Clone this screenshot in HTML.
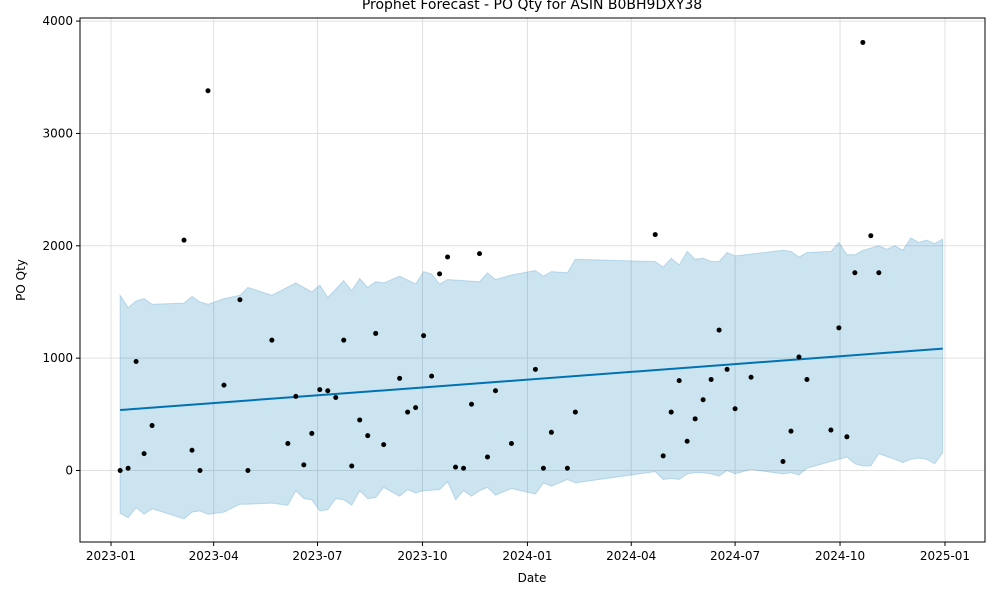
<!DOCTYPE html>
<html><head><meta charset="utf-8"><style>
html,body{margin:0;padding:0;background:#fff;}
svg text{font-family:"DejaVu Sans","Liberation Sans",sans-serif;fill:#000;}
</style></head><body>
<svg id="chart" width="1000" height="600" xmlns="http://www.w3.org/2000/svg">
<text x="532" y="9" font-size="14" text-anchor="middle">Prophet Forecast - PO Qty for ASIN B0BH9DXY38</text>
<g id="grid"></g>
<g id="band"></g>
<g id="trend"></g>
<g id="pts"></g>
<rect x="80" y="18" width="905" height="524" fill="none" stroke="#000" stroke-width="1"/>
<g id="axes"></g>
<text x="532" y="582" font-size="12" text-anchor="middle">Date</text>
<text x="25" y="280" font-size="12" text-anchor="middle" transform="rotate(-90 25 280)">PO Qty</text>
</svg>
<script>
// weeks since 2023-01-09
const pointWeeks=[0,1,2,3,4,8,9,10,11,13,15,16,19,21,22,23,24,25,26,27,28,29,30,31,32,33,35,36,37,38,39,40,41,42,43,44,45,46,47,49,52,53,54,56,57,67,68,69,70,71,72,73,74,75,76,77,79,83,84,85,86,89,90,91,92,93,94,95];
const pointValues=[0,20,970,150,400,2050,180,0,3380,760,1520,0,1160,240,660,50,330,720,710,650,1160,40,450,310,1220,230,820,520,560,1200,840,1750,1900,30,20,590,1930,120,710,240,900,20,340,20,520,2100,130,520,800,260,460,630,810,1250,900,550,830,80,350,1010,810,360,1270,300,1760,3810,2090,1760];
const bandUpperWeeks=[0,1,2,3,4,8,9,10,11,13,15,16,19,22,24,25,26,28,29,30,31,32,33,35,37,38,39,40,41,43,45,46,47,49,52,53,54,56,57,67,68,69,70,71,72,73,74,75,76,77,83,84,85,86,89,90,91,92,93,95,96,97,98,99,100,101,102,103];
const bandUpper=[1560,1450,1510,1530,1480,1490,1550,1500,1480,1530,1560,1630,1560,1670,1590,1650,1540,1690,1600,1710,1630,1680,1670,1730,1660,1770,1750,1660,1700,1690,1680,1760,1700,1740,1780,1730,1770,1760,1880,1860,1810,1890,1830,1950,1880,1890,1860,1860,1940,1910,1960,1950,1900,1940,1950,2030,1920,1920,1960,2000,1970,2000,1960,2070,2030,2050,2020,2060];
const bandLowerWeeks=[0,1,2,3,4,8,9,10,11,13,15,16,19,21,22,23,24,25,26,27,28,29,30,31,32,33,35,36,37,38,40,41,42,43,44,45,46,47,49,52,53,54,56,57,67,68,69,70,71,72,73,74,75,76,77,79,83,84,85,86,89,91,92,93,94,95,97,98,99,100,101,102,103];
const bandLower=[-380,-420,-330,-390,-340,-430,-370,-360,-390,-370,-300,-300,-290,-310,-180,-250,-260,-360,-350,-250,-260,-310,-180,-250,-240,-150,-230,-170,-200,-180,-170,-100,-260,-180,-230,-180,-150,-220,-160,-210,-110,-140,-80,-110,-10,-80,-70,-80,-30,-20,-20,-30,-50,0,-30,10,-30,-20,-40,20,80,120,60,40,40,150,100,70,100,110,100,60,160];
const trendWeeks=[0,103];
const trendValues=[538,1085];
const yTicks=[0,1000,2000,3000,4000];
const xTickLabels=["2023-01","2023-04","2023-07","2023-10","2024-01","2024-04","2024-07","2024-10","2025-01"];
const xTickDays=[0,90,181,273,365,456,547,639,731];

const NS="http://www.w3.org/2000/svg";
const pxPerDay=834/731;
function xDay(d){return 111+d*pxPerDay;}
function xWeek(w){return xDay(8+w*7);}
function y(v){return 470.5-v*0.11235;}
function mk(tag,attrs,parent){const e=document.createElementNS(NS,tag);for(const k in attrs)e.setAttribute(k,attrs[k]);parent.appendChild(e);return e;}
const grid=document.getElementById('grid'),axes=document.getElementById('axes');
yTicks.forEach(t=>{
  const l=mk('line',{x1:80,x2:985,y1:y(t),y2:y(t),stroke:'#e0e0e0','stroke-width':1},grid);
  
  
  const tk=mk('line',{x1:76,x2:80,y1:y(t),y2:y(t),stroke:'#000'},axes);
  
  
  const tx=mk('text',{x:73,y:y(t)+4,'font-size':12,'text-anchor':'end'},axes);
  tx.textContent=t;
  
  
});
xTickDays.forEach((d,i)=>{
  const X=xDay(d);
  const l=mk('line',{x1:X,x2:X,y1:18,y2:542,stroke:'#e0e0e0','stroke-width':1},grid);
  
  
  const tk=mk('line',{x1:X,x2:X,y1:542,y2:546,stroke:'#000'},axes);
  
  
  const tx=mk('text',{x:X,y:560,'font-size':12,'text-anchor':'middle'},axes);
  tx.textContent=xTickLabels[i];
  
  
});
let d='';
bandUpperWeeks.forEach((w,i)=>{d+=(i?'L':'M')+xWeek(w).toFixed(1)+','+y(bandUpper[i]).toFixed(1);});
for(let i=bandLowerWeeks.length-1;i>=0;i--){d+='L'+xWeek(bandLowerWeeks[i]).toFixed(1)+','+y(bandLower[i]).toFixed(1);}
d+='Z';
const band=mk('path',{d:d,fill:'#0072B2','fill-opacity':0.2,stroke:'#0072B2','stroke-opacity':0.2},document.getElementById('band'));


const tl=mk('polyline',{points:trendWeeks.map((w,i)=>xWeek(w)+','+y(trendValues[i])).join(' '),fill:'none',stroke:'#0072B2','stroke-width':2},document.getElementById('trend'));


const pts=document.getElementById('pts');
pointWeeks.forEach((w,i)=>{
  const c=mk('circle',{cx:xWeek(w),cy:y(pointValues[i]),r:2.5,fill:'#000'},pts);
  
  
});
</script>
</body></html>
